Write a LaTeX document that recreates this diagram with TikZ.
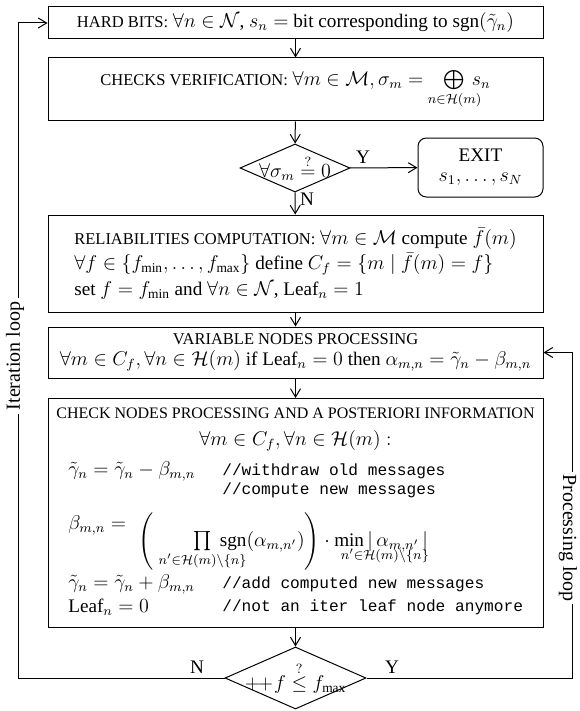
\documentclass[tikz,border=0pt]{standalone}
\usepackage{amsmath,amssymb,mathtools}
\usepackage{fontspec}
\setmainfont{Liberation Serif}
\setmonofont{Liberation Mono}
\usetikzlibrary{arrows.meta,shapes.geometric}
\newcommand{\capsfont}{\fontsize{9.9}{11.8}\selectfont}
\newcommand{\bodyfont}{\fontsize{11.5}{13.8}\selectfont}
\begin{document}
\begin{tikzpicture}[x=0.6pt,y=-0.6pt,
  every node/.style={font=\bodyfont},
  box/.style={draw, line width=0.6pt, minimum width=297pt, inner sep=0pt, align=center},
  dia/.style={draw, diamond, line width=0.6pt, inner sep=0pt},
  exitbox/.style={draw, line width=0.6pt, rounded corners=5pt, inner sep=0pt, align=center, minimum width=75pt, minimum height=35.4pt},
  arr/.style={-{Straight Barb[length=5pt,width=6pt]}, line width=0.6pt},
  lbl/.style={inner sep=1pt},
  cmt/.style={anchor=west, inner sep=0pt, font=\ttfamily\fontsize{9.7}{12}\selectfont},
  lft/.style={anchor=west, inner sep=0pt},
  lftb/.style={anchor=base west, inner sep=0pt},
  looplbl/.style={fill=white, inner sep=2.5pt, font=\fontsize{12}{14}\selectfont}]
\useasboundingbox (0,0) rectangle (579,711);

% boxes
\node[box, minimum height=19.2pt] (b1) at (295.5,23)
  {{\capsfont HARD BITS:} $\forall n \in \mathcal{N}$, $s_n =$ bit corresponding to $\mathrm{sgn}(\tilde{\gamma}_n)$};
\node[box, minimum height=37.8pt] (b2) at (295.5,89.5)
  {{\capsfont CHECKS VERIFICATION:} $\forall m \in \mathcal{M}, \sigma_m = \kern9pt\bigoplus\limits_{\mathclap{n\in\mathcal{H}(m)}}\kern2pt s_n$};
\node[dia, minimum width=66pt, minimum height=28.8pt] (d1) at (295,168) {};
\node (d1t) at (d1) {$\forall\sigma_m \stackrel{?}{=} 0$};
\node[exitbox] (exit) at (480.5,167.5) {EXIT\\[-2pt]$s_1,\ldots,s_N$};
\node[box, minimum height=58.2pt, align=left] (b3) at (295.5,263.5)
  {{\capsfont RELIABILITIES COMPUTATION:} $\forall m\in\mathcal{M}$ compute $\bar{f}(m)$\\[1.5pt]
   $\forall f\in\{f_{\mathrm{min}},\ldots,f_{\mathrm{max}}\}$ define $C_f = \{m \mid \bar{f}(m) = f\}$\\[1.5pt]
   set $f = f_{\mathrm{min}}$ and $\forall n\in\mathcal{N}$, Leaf$_n = 1$};
\node[box, minimum height=30.6pt] (b4) at (295.5,352.5)
  {{\capsfont VARIABLE NODES PROCESSING}\\[-1pt]
   $\forall m\in C_f, \forall n\in\mathcal{H}(m)$ if Leaf$_n=0$ then $\alpha_{m,n} = \tilde{\gamma}_n - \beta_{m,n}$};
\node[box, minimum height=137.4pt] (b5) at (295.5,513) {};
\node[dia, minimum width=84.6pt, minimum height=37.2pt] (d2) at (295.5,678) {};
\node (d2t) at (d2) {$+\!\!+\!f \stackrel{?}{\leq} f_{\mathrm{max}}$};

% box 5 contents
\node[font=\fontsize{9.6}{11.5}\selectfont] (h5) at (295.5,413) {CHECK NODES PROCESSING AND A POSTERIORI INFORMATION};
\node (q5) at (295.5,441) {$\forall m\in C_f, \forall n\in\mathcal{H}(m) :$};
\node[lft] (l1) at (68,471) {$\tilde{\gamma}_n = \tilde{\gamma}_n - \beta_{m,n}$};
\node[cmt] (c1) at (222,471) {//withdraw old messages};
\node[cmt] (c2) at (222,490) {//compute new messages};
\node[lftb] (l2) at (68,529) {$\beta_{m,n} =$};
\node[lftb] (l2b) at (138,546) {$\Biggl(\kern 24pt\prod\limits_{\mathclap{n'\in\mathcal{H}(m)\setminus\{n\}}}\kern3pt \mathrm{sgn}(\alpha_{m,n'})\Biggr)\cdot \min\limits_{\mathrlap{\kern-5pt n'\in\mathcal{H}(m)\setminus\{n\}}}\,\lvert\,\alpha_{m,n'}\,\rvert$};
\node[lft] (l3) at (68,584) {$\tilde{\gamma}_n = \tilde{\gamma}_n + \beta_{m,n}$};
\node[cmt] (c3) at (222,584) {//add computed new messages};
\node[lft] (l4) at (68,607) {Leaf$_n = 0$};
\node[cmt] (c4) at (222,607) {//not an iter leaf node anymore};

% connectors
\draw[arr] (b1) -- (b2);
\draw[arr] (b2) -- (d1);
\draw[arr] (d1) -- (exit);
\draw[arr] (d1) -- (b3);
\draw[arr] (b3) -- (b4);
\draw[arr] (b4) -- (b5);
\draw[arr] (b5) -- (d2);
\coordinate (L) at (18,23);
\coordinate (R) at (572,352.5);
\draw[arr] (d2.west) -| (L) -- (b1.west);
\draw[arr] (d2.east) -| (R) -- (b4.east);

% labels
\node[lbl] (y1) at (363,157) {Y};
\node[lbl] (n1) at (307,199) {N};
\node[lbl] (n2) at (197,667) {N};
\node[lbl] (y2) at (392,667) {Y};
\node[looplbl, rotate=90] (itl) at (15,356) {Iteration loop};
\node[looplbl, rotate=-90, inner sep=1.5pt] (prl) at (568,538) {Processing loop};
\end{tikzpicture}
\end{document}
